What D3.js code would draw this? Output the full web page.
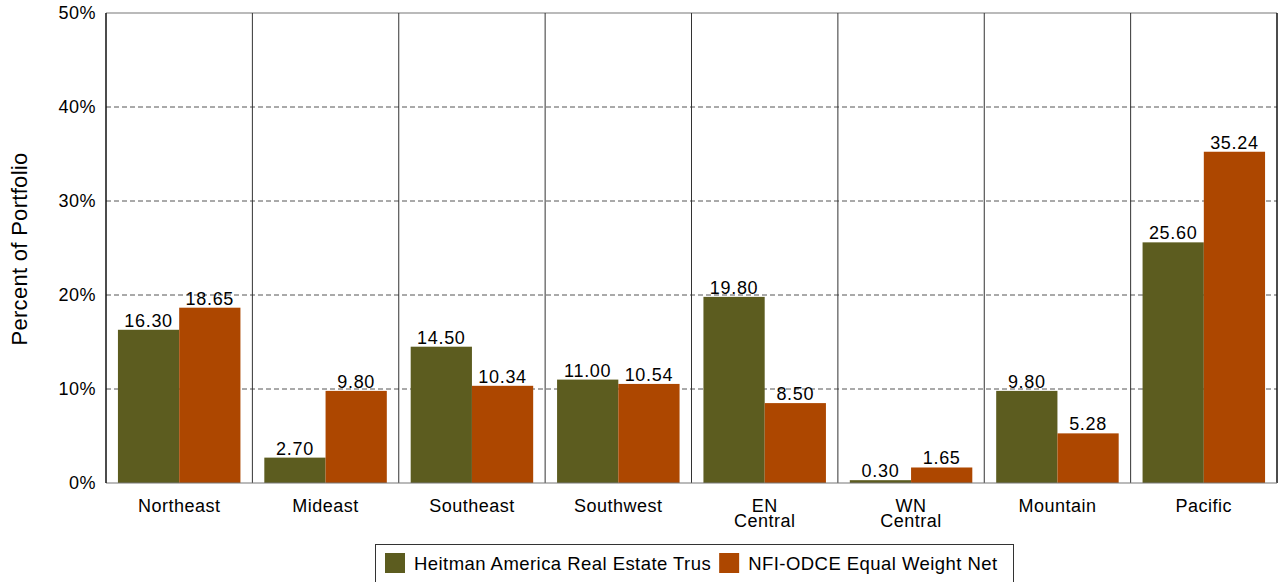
<!DOCTYPE html>
<html><head><meta charset="utf-8">
<script src="https://cdn.jsdelivr.net/npm/d3@7"></script>
<style>body{margin:0;background:#fff;font-family:"Liberation Sans",Arial,sans-serif;}</style>
</head><body><svg id="c" width="1282" height="582"></svg>
<script>
const categories = [["Northeast"],["Mideast"],["Southeast"],["Southwest"],["EN","Central"],["WN","Central"],["Mountain"],["Pacific"]];
const seriesNames = ["Heitman America Real Estate Trus","NFI-ODCE Equal Weight Net"];
const heitman = [16.30, 2.70, 14.50, 11.00, 19.80, 0.30, 9.80, 25.60];
const nfi = [18.65, 9.80, 10.34, 10.54, 8.50, 1.65, 5.28, 35.24];
const yTicks = [0,10,20,30,40,50];
const colors = ["#5c5c1f","#ad4700"];

const svg = d3.select("#c");
const m = {l:106, r:1277, t:13, b:483};
const keys = categories.map((c,i)=>i);
const x0 = d3.scaleBand().domain(keys).range([m.l,m.r]).paddingInner(0).paddingOuter(0);
const x1 = d3.scaleBand().domain([0,1]).range([0,x0.bandwidth()]).paddingOuter(0.195).paddingInner(0);
const y = d3.scaleLinear().domain([0,50]).range([m.b,m.t]);

// gridlines
svg.append("g").selectAll("line").data(yTicks.filter(t=>t>0&&t<50)).join("line")
  .attr("x1",m.l).attr("x2",m.r).attr("y1",d=>y(d)).attr("y2",d=>y(d))
  .attr("stroke","#555").attr("stroke-dasharray","5,3").attr("stroke-width",1);
svg.append("line").attr("x1",m.l).attr("x2",m.r).attr("y1",y(50)).attr("y2",y(50)).attr("stroke","#777").attr("stroke-width",1.2);

// separators
svg.append("g").selectAll("line").data(keys.slice(1)).join("line")
  .attr("x1",d=>x0(d)).attr("x2",d=>x0(d)).attr("y1",m.t).attr("y2",m.b)
  .attr("stroke","#333").attr("stroke-width",1);
svg.append("line").attr("x1",m.r).attr("x2",m.r).attr("y1",m.t).attr("y2",m.b).attr("stroke","#111").attr("stroke-width",1.5);

// bars
const data = keys.map(i=>[heitman[i], nfi[i]]);
const g = svg.append("g").selectAll("g").data(data).join("g").attr("transform",(d,i)=>`translate(${x0(i)},0)`);
g.selectAll("rect").data(d=>d).join("rect")
  .attr("x",(d,j)=>x1(j)).attr("width",x1.bandwidth())
  .attr("y",d=>y(d)).attr("height",d=>y(0)-y(d)).attr("fill",(d,j)=>colors[j]);
g.selectAll("text").data(d=>d).join("text")
  .attr("x",(d,j)=>x1(j)+x1.bandwidth()/2).attr("y",d=>y(d)-3)
  .attr("text-anchor","middle").attr("font-size",18).attr("letter-spacing",0.7).attr("fill","#000")
  .text(d=>d.toFixed(2));

// axes lines
svg.append("line").attr("x1",m.l).attr("x2",m.r).attr("y1",m.b).attr("y2",m.b).attr("stroke","#777").attr("stroke-width",1.2);
svg.append("line").attr("x1",m.l).attr("x2",m.l).attr("y1",m.t).attr("y2",m.b).attr("stroke","#111").attr("stroke-width",1.5);

// y ticks
svg.append("g").selectAll("text").data(yTicks).join("text")
  .attr("x",96).attr("y",d=>y(d)+6).attr("text-anchor","end").attr("font-size",18).attr("letter-spacing",0.5).text(d=>d+"%");

// x labels
const xl = svg.append("g").selectAll("text").data(keys).join("text")
  .attr("x",d=>x0(d)+x0.bandwidth()/2).attr("y",511.5).attr("text-anchor","middle").attr("font-size",18).attr("letter-spacing",0.5);
xl.selectAll("tspan").data(d=>categories[d]).join("tspan")
  .attr("x",function(){return this.parentNode.getAttribute("x");})
  .attr("dy",(d,i)=>i?15:0).text(d=>d);

// y title
svg.append("text").attr("transform","translate(27,249) rotate(-90)").attr("text-anchor","middle")
  .attr("font-size",22).attr("letter-spacing",0.3).text("Percent of Portfolio");

// legend
const lg = svg.append("g");
lg.append("rect").attr("x",375.5).attr("y",544.5).attr("width",638).attr("height",50).attr("fill","#fff").attr("stroke","#333").attr("stroke-width",1);
let lx = 385;
seriesNames.forEach((s,i)=>{
  lg.append("rect").attr("x",lx).attr("y",553).attr("width",20).attr("height",20).attr("fill",colors[i]);
  const t = lg.append("text").attr("x",lx+29).attr("y",570).attr("font-size",18.5).attr("letter-spacing",0.45).text(s);
  lx = lx + 29 + t.node().getComputedTextLength() + 8;
});
</script></body></html>
